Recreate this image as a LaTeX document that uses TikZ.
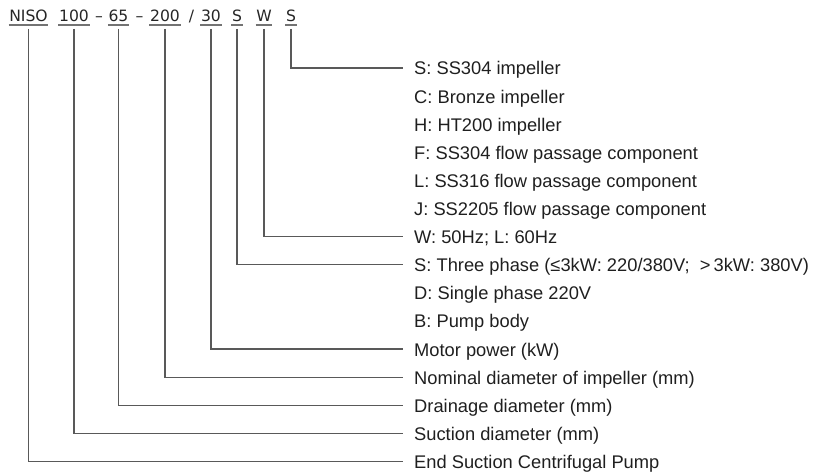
\documentclass[tikz,border=0pt]{standalone}
\usepackage{fontspec}
\setmainfont{Liberation Sans}
\newfontfamily\topfont{DejaVu Sans}
\begin{document}
\begin{tikzpicture}[x=1pt,y=-1pt,
  code/.style={inner sep=0pt,anchor=base,font=\topfont\fontsize{15.6}{17}\selectfont,text=black!85},
  desc/.style={inner sep=0pt,anchor=base west,font=\fontsize{18.3}{20}\selectfont,text=black!88},
  conn/.style={draw=black!65,line width=1.2pt},
  uline/.style={draw=black!55,line width=1.2pt}]
\useasboundingbox (0,0) rectangle (816,473);
% top code
\node[code] (tNISO) at (28.5,21.5) {NISO};
\node[code] (t100) at (74,21.5) {100};
\node[code] (d1) at (99,21.5) {–};
\node[code] (t65) at (118.5,21.5) {65};
\node[code] (d2) at (139.5,21.5) {–};
\node[code] (t200) at (165,21.5) {200};
\node[code] (sl) at (191.5,21.5) {/};
\node[code] (t30) at (211,21.5) {30};
\node[code] (tS1) at (237,21.5) {S};
\node[code] (tW) at (264,21.5) {W};
\node[code] (tS2) at (291,21.5) {S};
\foreach \n in {tNISO,t100,t65,t200,t30,tS1,tW,tS2}{
  \draw[uline] ([yshift=-3.5pt,xshift=-0.5pt]\n.base west) -- ([yshift=-3.5pt,xshift=0.5pt]\n.base east);
}
% descriptions
\foreach \i/\t in {0/{S: SS304 impeller},1/{C: Bronze impeller},2/{H: HT200 impeller},
  3/{F: SS304 flow passage component},4/{L: SS316 flow passage component},
  5/{J: SS2205 flow passage component},6/{W: 50Hz; L: 60Hz},
  7/{S: Three phase (≤3kW: 220/380V;\ \ >\,3kW: 380V)},8/{D: Single phase 220V},
  9/{B: Pump body},10/{Motor power (kW)},11/{Nominal diameter of impeller (mm)},
  12/{Drainage diameter (mm)},13/{Suction diameter (mm)},14/{End Suction Centrifugal Pump}}{
  \node[desc] (r\i) at (414,68+28.1*\i+7) {\t};
  \coordinate (e\i) at (403,68+28.1*\i);
}
% connectors
\draw[conn] ([yshift=-7.5pt]tS2.base) |- (e0);
\draw[conn] ([yshift=-7.5pt]tW.base) |- (e6);
\draw[conn] ([yshift=-7.5pt]tS1.base) |- (e7);
\draw[conn] ([yshift=-7.5pt]t30.base) |- (e10);
\draw[conn] ([yshift=-7.5pt]t200.base) |- (e11);
\draw[conn] ([yshift=-7.5pt]t65.base) |- (e12);
\draw[conn] ([yshift=-7.5pt]t100.base) |- (e13);
\draw[conn] ([yshift=-7.5pt]tNISO.base) |- (e14);
\end{tikzpicture}
\end{document}
